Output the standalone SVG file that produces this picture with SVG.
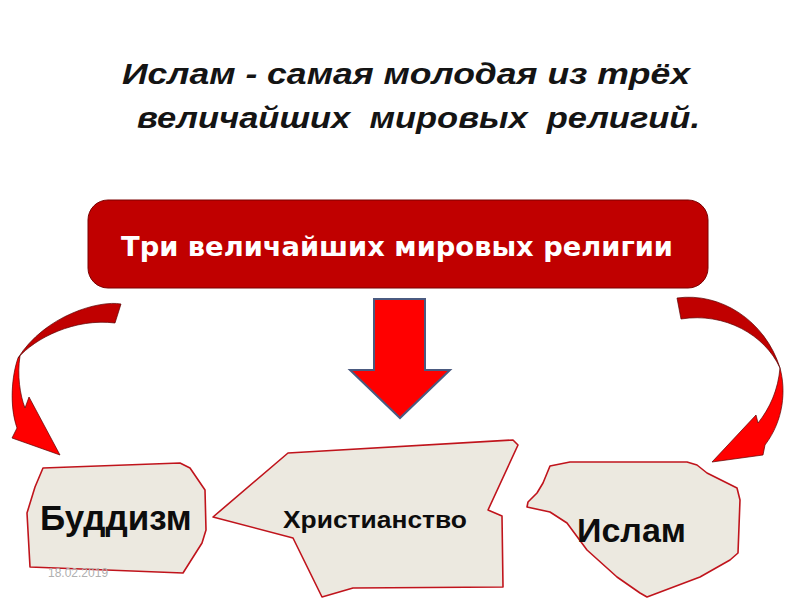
<svg xmlns="http://www.w3.org/2000/svg" width="800" height="600" viewBox="0 0 800 600">
<style>
.title{font-family:"Liberation Sans",Arial,sans-serif;font-style:italic;font-weight:bold;font-size:30px;fill:#141414;white-space:pre}
.box{fill:#ece9e0;stroke:#c0141c;stroke-width:1.6;stroke-linejoin:round}
.lbl{font-family:"Liberation Sans",Arial,sans-serif;font-weight:bold;fill:#0d0d0d}
.dark{fill:#c00000;stroke:#5a0000;stroke-width:0.7}
.bright{fill:#ff0000;stroke:#5a0000;stroke-width:0.7}
</style>
<rect width="800" height="600" fill="#ffffff"/>
<g id="title">
<text class="title" x="122" y="84" textLength="568" lengthAdjust="spacingAndGlyphs">Ислам - самая молодая из трёх</text>
<text class="title" x="137" y="128" xml:space="preserve" textLength="563" lengthAdjust="spacingAndGlyphs">величайших  мировых  религий.</text>
</g>
<g id="header">
<rect x="88" y="200" width="620" height="88" rx="20" ry="20" fill="#c00000" stroke="#7a0000" stroke-width="1"/>
<text x="397" y="256" text-anchor="middle" font-family="'DejaVu Sans',sans-serif" font-weight="bold" font-size="26" fill="#ffffff" textLength="552" lengthAdjust="spacingAndGlyphs">Три величайших мировых религии</text>
</g>
<g id="connectors">
<g id="arrow-left">
<path class="dark" d="M121,304 C100,300 45,315 18,358 C35,338 75,318 115,323 Z"/>
<path class="bright" d="M18,358 C12,375 9,405 17,428 L12,438 L60,455 L29,397 L25,408 C20,395 17,375 20,356 Z"/>
</g>
<polygon id="arrow-down" points="374,299 425,299 425,370 450,370 400,418 350,370 374,370" fill="#ff0000" stroke="#4a5a80" stroke-width="2" stroke-linejoin="miter"/>
<g id="arrow-right">
<path class="dark" d="M677,298 C720,292 765,320 780,368 C765,335 725,312 681,319 Z"/>
<path class="bright" d="M780,368 C786,390 784,420 765,445 L763,455 L712,462 L756,415 L758,423 C770,408 778,390 780,368 Z"/>
</g>
</g>
<g id="buddhism">
<polygon class="box" points="43,468 180,463 190,468 205,490 206,530 202,543 183,573 30,567 27,513 35,487"/>
<text class="lbl" x="40" y="530" font-size="35">Буддизм</text>
</g>
<g id="christianity">
<polygon class="box" points="213,517 288,453 513,440 518,445 488,510 502,516 503,587 353,588 322,597 293,538"/>
<text class="lbl" x="283" y="528" font-size="23" textLength="184" lengthAdjust="spacingAndGlyphs">Христианство</text>
</g>
<g id="islam">
<polygon class="box" points="550,466 570,462 687,462 697,465 707,473 727,483 737,488 740,500 738,553 730,560 700,577 647,597 640,593 617,577 587,550 567,523 550,512 527,507 528,502 537,493 543,483"/>
<text class="lbl" x="577" y="542" font-size="34">Ислам</text>
</g>
<text id="date" x="48" y="577" font-family="'Liberation Sans',Arial,sans-serif" font-size="12" fill="#b0b0b0">18.02.2019</text>
</svg>
